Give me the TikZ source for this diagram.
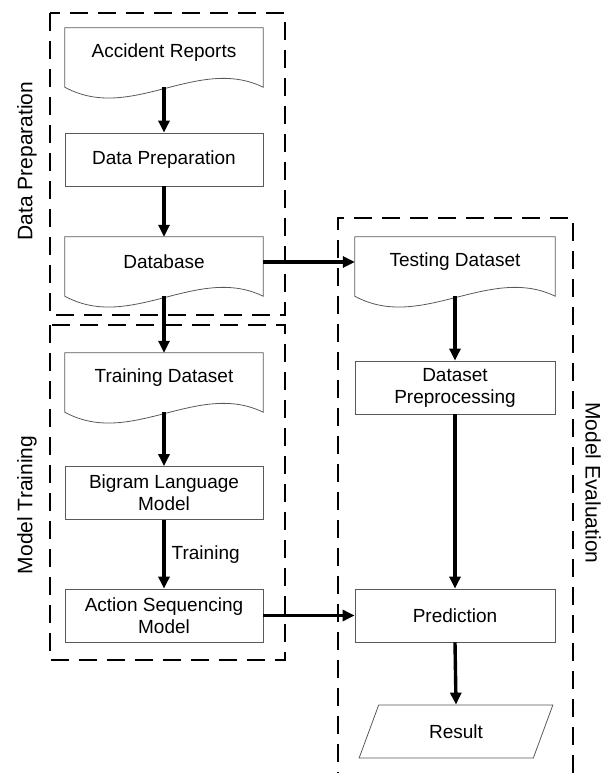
\documentclass[tikz,border=0pt]{standalone}
\usepackage{fontspec}
\setmainfont{Liberation Sans}
\usetikzlibrary{arrows.meta,shapes.geometric,calc}
\newcommand\docoutline[1]{%
  \draw[docline] ($(#1.south west)+(0,9)$) -- (#1.north west) -- (#1.north east) -- ($(#1.south east)+(0,9)$)
    .. controls +(-66,-32) and +(66,36) .. ($(#1.south west)+(0,9)$) -- cycle;
  \coordinate (#1w) at ($(#1.south)+(0,9)$);}
\begin{document}
\begin{tikzpicture}[x=1pt,y=-1pt,
  txt/.style={font=\fontsize{19}{22}\selectfont, align=center},
  box/.style={txt, draw=gray!70!black, line width=0.8pt, minimum width=198pt, minimum height=53pt, inner sep=2pt},
  docnode/.style={txt, minimum width=198pt, minimum height=50pt, inner sep=0pt},
  docline/.style={draw=gray!70!black, line width=0.8pt},
  arr/.style={line width=3.4pt, -{Triangle[length=12pt,width=11pt]}},
  group/.style={line width=2.7pt, dash pattern=on 18pt off 10pt},
  grouplabel/.style={font=\fontsize{21}{24}\selectfont}
]
\useasboundingbox (0,0) rectangle (608,773);

% group frames
\draw[group] (50,13) rectangle (285,315);
\draw[group] (50,325) rectangle (285,660);
\draw[group] (338,790) -- (338,218) -- (573,218) -- (573,790);

% group labels
\node[grouplabel, rotate=90] (lblA) at (27,161) {Data Preparation};
\node[grouplabel, rotate=90] (lblB) at (27,505) {Model Training};
\node[grouplabel, rotate=-90] (lblC) at (593,483) {Model Evaluation};

% left column
\node[docnode] (ar) at (164,53) {Accident Reports};
\docoutline{ar}
\node[box] (dp) at (164,159.5) {Data Preparation};
\node[docnode] (db) at (164,262) {Database};
\docoutline{db}
\node[docnode] (td) at (164,378) {Training Dataset};
\docoutline{td}
\node[box] (bg) at (164,493) {Bigram Language\\Model};
\node[box] (as) at (164,615.5) {Action Sequencing\\Model};

% right column
\node[docnode, minimum width=200pt] (te) at (455,262) {Testing Dataset};
\docoutline{te}
\node[box, minimum width=200pt] (pp) at (455,387.5) {Dataset\\Preprocessing};
\node[box, minimum width=200pt] (pr) at (455,615.5) {Prediction};
\node[txt, trapezium, trapezium left angle=64, trapezium right angle=116, trapezium stretches=true,
      draw=gray!70!black, line width=0.8pt, minimum width=194pt, minimum height=53pt, inner sep=0pt] (res) at (456,731.5) {Result};

% connectors
\draw[arr] (arw) -- (dp.north);
\draw[arr] (dp.south) -- (db.north);
\draw[arr] (dbw) -- (td.north);
\draw[arr] (db.east) -- (te.west);
\draw[arr] (tdw) -- (bg.north);
\draw[arr] (bg.south) -- node[txt, anchor=west, inner sep=6pt] (trn) {Training} (as.north);
\draw[arr] (as.east) -- (pr.west);
\draw[arr] (tew) -- (pp.north);
\draw[arr] (pp.south) -- (pr.north);
\draw[arr] (pr.south) -- (res.north);
\end{tikzpicture}
\end{document}
